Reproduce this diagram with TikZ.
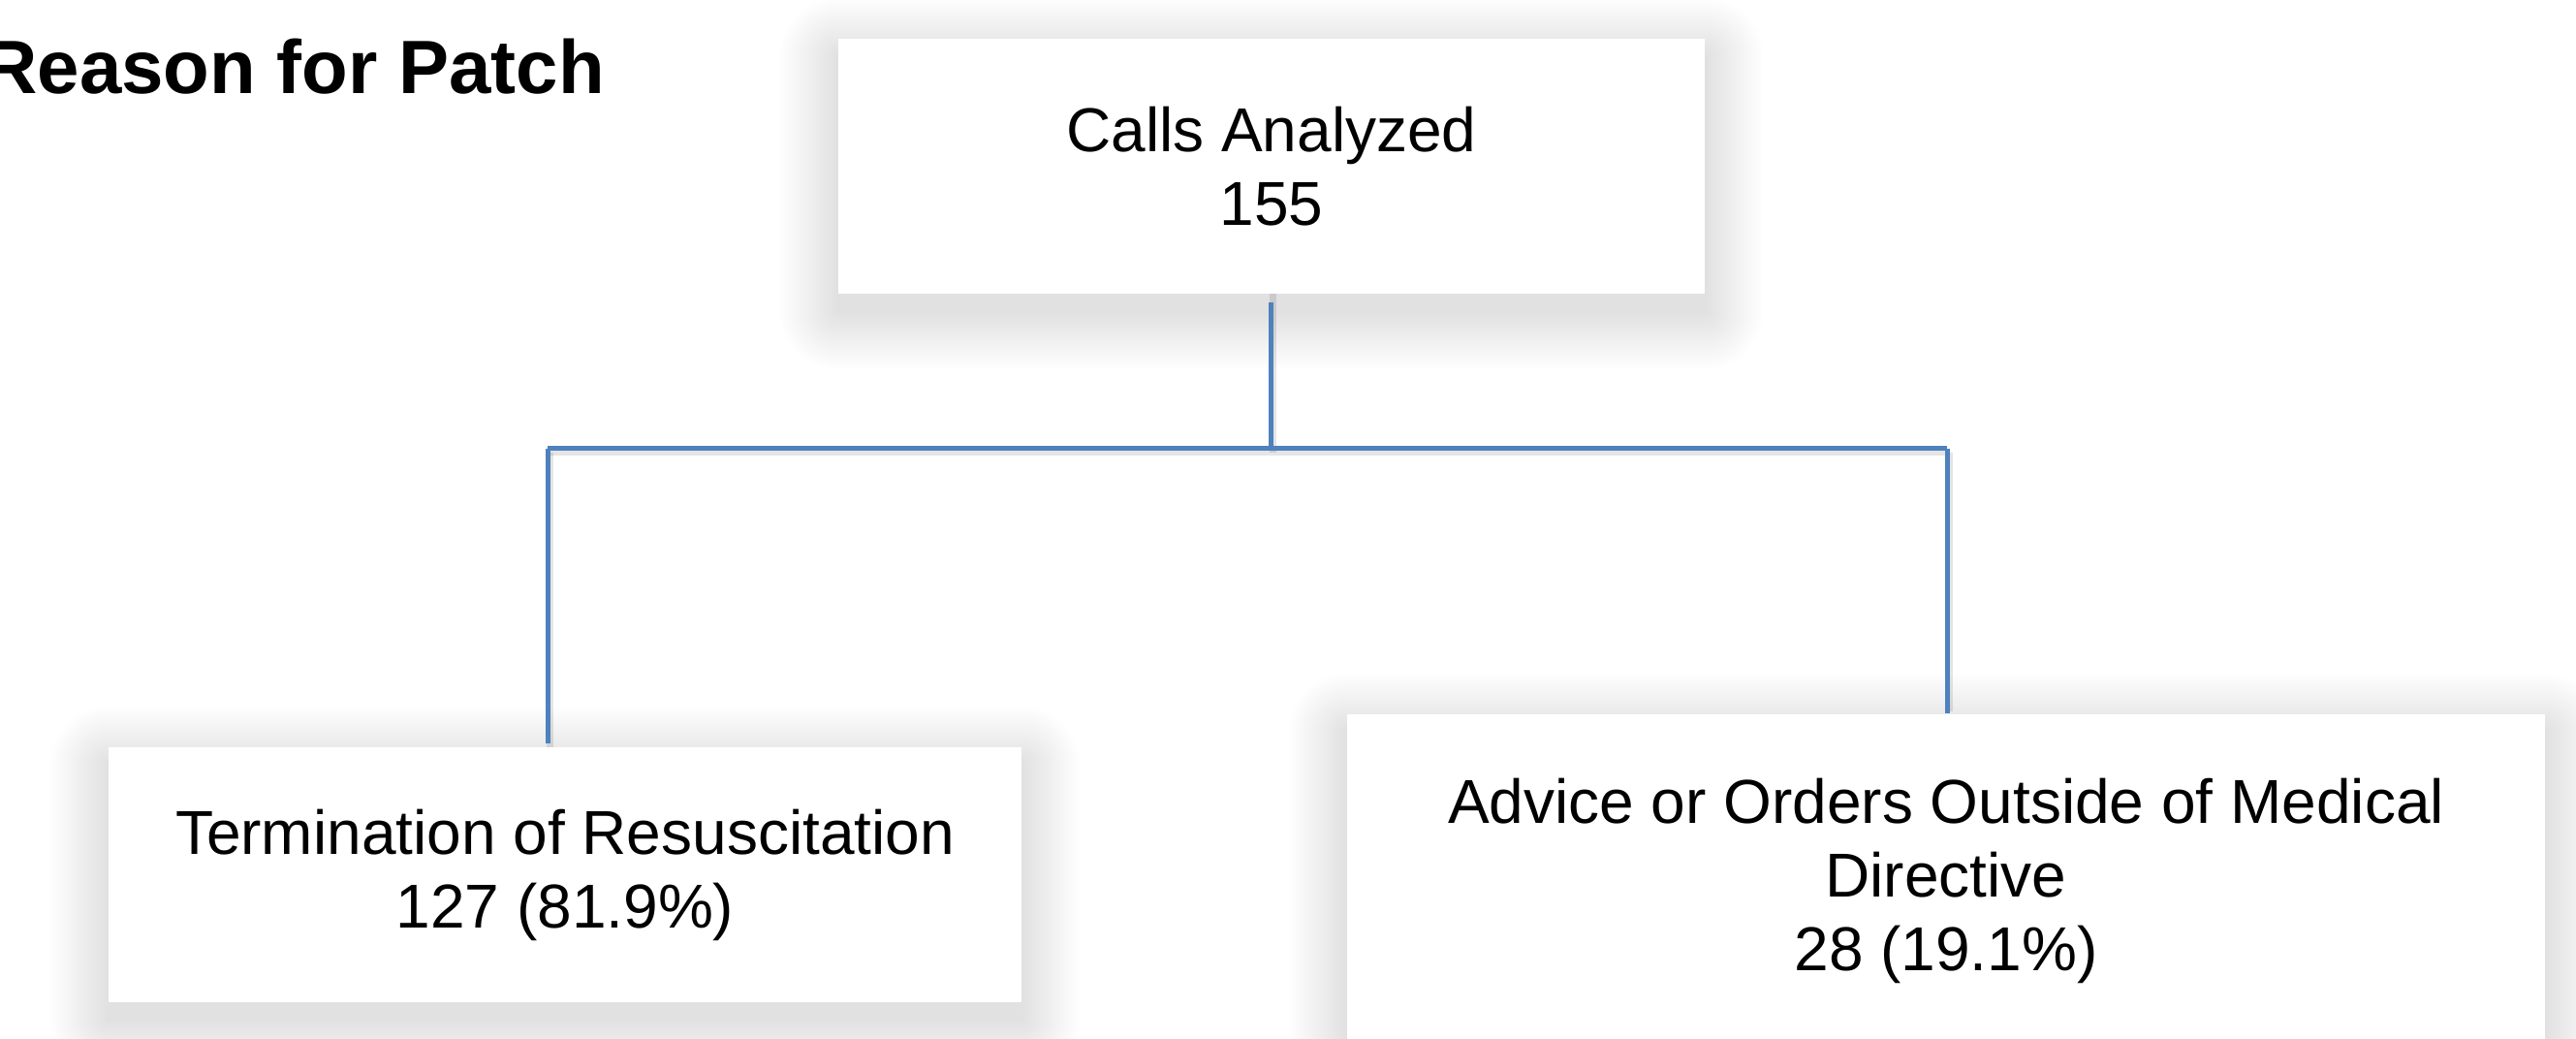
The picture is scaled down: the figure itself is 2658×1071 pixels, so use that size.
\documentclass[tikz,border=0pt]{standalone}
\usepackage{fontspec}
\setmainfont{Liberation Sans}
\usetikzlibrary{calc}
\definecolor{connblue}{HTML}{4F81BD}
\pgfdeclarelayer{background}
\pgfdeclarelayer{shadowlayer}
\pgfsetlayers{background,shadowlayer,main}
\begin{document}
\begin{tikzpicture}[x=1pt,y=-1pt,
  box/.style={draw=none,fill=white,inner sep=0pt,align=center,
    font=\fontsize{64}{76}\selectfont},
  conn/.style={draw=connblue,line width=5pt},
  connshadow/.style={draw=black,opacity=0.10,line width=7pt},
  softshade/.style={fill=black,opacity=0.0055}]
\begin{pgfonlayer}{background}
\fill[white] (0,0) rectangle (2658,1071);
\end{pgfonlayer}
\useasboundingbox (0,0) rectangle (2658,1071);
\begin{scope}
\clip (0,0) rectangle (2658,1071);
\node[anchor=base east,inner sep=0pt,font=\fontsize{78}{94}\selectfont\bfseries] (title) at (624,96) {Reason for Patch};

\coordinate (bm) at (1311,462.5);
\coordinate (bl) at (565,462.5);
\coordinate (br) at (2009,462.5);

\node[box,minimum width=894pt,minimum height=263pt] (top) at (1312,171.5) {Calls Analyzed\\155};
\node[box,minimum width=942pt,minimum height=263pt] (left) at (583,902.5) {Termination of Resuscitation\\127 (81.9\%)};
\node[box,minimum width=1236pt,minimum height=343pt] (right) at (2008,908.5) {Advice or Orders Outside of Medical\\Directive\\28 (19.1\%)};

\begin{pgfonlayer}{shadowlayer}
\foreach \n in {top,left,right}{
  \foreach \i in {1,...,30}{
    \fill[softshade,rounded corners={2*\i}] ($(\n.north west)+({-2*\i},{18-2*\i})$) rectangle ($(\n.south east)+({2*\i},{18+2*\i})$);
  }
}
\draw[connshadow] ([shift={(2,4)}]bl) -- ([shift={(2,4)}]br);
\draw[connshadow] ([shift={(2,-5)}]top.south -| bm) -- ([shift={(2,4)}]bm);
\draw[connshadow] ([shift={(2,4)}]bl) -- ([shift={(2,0)}]left.north -| bl);
\draw[connshadow] ([shift={(2,4)}]br) -- ([shift={(2,-3)}]right.north -| br);
\end{pgfonlayer}

\draw[conn] (bl) -- (br);
\draw[conn] ([yshift=-9pt]top.south -| bm) -- (bm);
\draw[conn] (bl) -- ([yshift=4pt]left.north -| bl);
\draw[conn] (br) -- ([yshift=1pt]right.north -| br);
\end{scope}
\end{tikzpicture}
\end{document}
